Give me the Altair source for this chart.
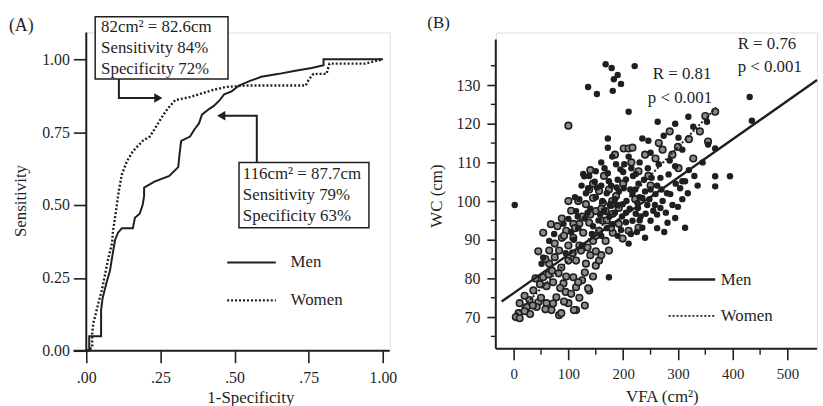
import altair as alt
import pandas as pd

SERIF = "Liberation Serif"
INK = "#1f1f1f"

# ---------------- Panel A : ROC curves ----------------
men_fpr = [0, 0.01, 0.01, 0.05, 0.05, 0.055, 0.07, 0.08, 0.087, 0.097,
           0.107, 0.12, 0.157, 0.164, 0.18, 0.19, 0.195, 0.195, 0.23, 0.28,
           0.31, 0.314, 0.32, 0.35, 0.365, 0.38, 0.39, 0.415, 0.43, 0.45,
           0.465, 0.49, 0.515, 0.55, 0.59, 0.65, 0.70, 0.76, 0.80, 0.80,
           0.99, 1.0]
men_sens = [0, 0, 0.05, 0.05, 0.14, 0.18, 0.24, 0.275, 0.32, 0.38,
            0.405, 0.42, 0.42, 0.456, 0.47, 0.50, 0.53, 0.56, 0.58, 0.60,
            0.63, 0.67, 0.72, 0.735, 0.76, 0.78, 0.81, 0.83, 0.84, 0.86,
            0.88, 0.89, 0.91, 0.925, 0.94, 0.95, 0.96, 0.97, 0.98, 1.0,
            1.0, 1.0]
women_fpr = [0, 0.02, 0.02, 0.024, 0.04, 0.053, 0.064, 0.075, 0.087, 0.09,
             0.097, 0.103, 0.11, 0.12, 0.137, 0.157, 0.19, 0.214, 0.23, 0.254,
             0.274, 0.30, 0.348, 0.38, 0.425, 0.47, 0.54, 0.74, 0.75, 0.766,
             0.81, 0.82, 0.94, 1.0]
women_sens = [0, 0.01, 0.06, 0.095, 0.16, 0.21, 0.265, 0.32, 0.37, 0.41,
              0.456, 0.50, 0.55, 0.605, 0.65, 0.684, 0.72, 0.735, 0.76, 0.80,
              0.83, 0.86, 0.87, 0.88, 0.894, 0.905, 0.91, 0.91, 0.93, 0.95,
              0.95, 0.985, 0.985, 1.0]
roc_ticks = [0, 0.25, 0.5, 0.75, 1.0]
box_lines_1 = ["82cm² = 82.6cm", "Sensitivity 84%", "Specificity 72%"]
box_lines_2 = ["116cm² = 87.7cm", "Sensitivity 79%", "Specificity 63%"]
series = ["Men", "Women"]

# ---------------- Panel B : WC vs VFA scatter ----------------
men_vfa = [168, 179, 221, 190, 183, 196, 136, 152, 181, 210,
           263, 295, 319, 328, 353, 431, 435, 172, 172, 235,
           246, 274, 301, 355, 368, 368, 395, 308, 283, 2,
           174, 313, 304, 308, 368, 308, 210, 295, 187, 174,
           129, 150, 136, 127, 172, 195, 205, 223, 217, 235,
           199, 223, 227, 241, 214, 217, 259, 268, 295, 313,
           281, 300, 286, 272, 250, 235, 262, 201, 228, 160,
           185, 245, 265, 198, 212, 230, 255, 140, 158, 176,
           192, 206, 222, 238, 118, 130, 145, 165, 180, 196,
           240, 262, 278, 290, 150, 170, 190, 110, 125, 95,
           105, 160, 185, 205, 225, 248, 270, 330, 345, 285,
           320, 215, 180, 160, 230, 250, 54, 51, 65, 74,
           91, 100, 114,
           120, 135, 148, 162, 175, 188, 200, 213, 226, 240,
           252, 258, 170, 155, 143, 132, 117, 205, 218, 232,
           190, 178, 166, 152, 138, 124, 112, 202, 244, 268,
           280, 296, 318, 336, 262, 275, 190, 210, 230, 250]
men_wc = [135.4, 134.4, 134.9, 132.6, 131.5, 130.3, 129.5, 127.7, 128.5, 123.1,
          120.5, 120.0, 121.8, 119.2, 120.5, 126.9, 120.8, 116.2, 113.8, 116.2,
          115.6, 116.9, 116.4, 114.6, 113.6, 106.4, 106.4, 105.1, 106.9, 99.0,
          80.3, 105.1, 103.3, 100.5, 103.8, 113.3, 111.5, 109.0, 109.5, 105.1,
          106.4, 107.7, 103.3, 107.0, 107.2, 108.2, 105.6, 107.0, 101.8, 100.8,
          99.2, 96.7, 98.2, 96.7, 91.5, 94.9, 101.8, 98.2, 95.6, 93.1,
          94.4, 98.5, 101.8, 100.0, 94.9, 93.1, 104.0, 103.3, 104.5, 104.0,
          100.5, 108.5, 109.5, 96.0, 98.0, 101.0, 97.5, 98.0, 96.5, 99.0,
          102.5, 100.0, 103.0, 105.5, 93.0, 95.5, 93.5, 97.5, 94.0, 92.5,
          90.5, 93.0, 97.0, 99.0, 101.0, 102.0, 105.5, 90.0, 88.5, 86.5,
          92.0, 91.0, 97.0, 94.5, 92.0, 100.5, 103.0, 106.5, 110.0, 110.5,
          108.0, 108.5, 111.5, 110.0, 110.0, 112.5, 85.4, 83.8, 89.7, 91.5,
          94.1, 95.4, 97.4,
          100.5, 97.0, 105.0, 100.0, 96.0, 103.5, 107.5, 103.0, 99.5, 102.5,
          106.0, 99.0, 93.0, 95.0, 91.5, 102.0, 96.0, 97.0, 106.5, 96.0,
          99.0, 104.0, 108.5, 103.5, 106.5, 104.0, 101.0, 109.5, 99.0, 106.0,
          102.0, 104.5, 102.0, 104.0, 96.5, 92.0, 91.0, 89.0, 95.0, 103.0]
women_vfa = [100, 201, 210, 217, 368, 138, 114, 83, 54, 114,
             136, 36, 29, 45, 24, 11, 9, 4, 11, 60,
             69, 87, 100, 110, 78, 42, 114, 132, 150, 123,
             100, 87, 65, 65, 54, 82, 91, 109, 120, 109,
             83, 145, 168, 127, 156, 96, 109, 138, 163, 132,
             150, 181, 156, 138, 174, 145, 163, 187, 210, 228,
             192, 181, 199, 156, 174, 168, 178, 192, 228, 259,
             290, 328, 301, 320, 355, 340, 272, 250, 72, 95,
             125, 140, 60, 40, 20, 30, 120, 130, 145, 160,
             100, 75, 88, 135, 180, 200, 215, 240, 265, 300,
             140, 165, 185, 118, 105, 80, 68, 222, 246, 285,
             350, 145,
             20, 35, 50, 58, 72, 92, 105, 48, 85, 118,
             64, 96, 130, 108, 75, 92, 58, 120, 150, 140,
             160, 178, 125, 100, 112, 88, 70, 45, 150, 170]
women_wc = [119.5, 113.6, 113.6, 113.8, 123.1, 76.9, 71.8, 70.5, 91.8, 77.7,
            77.4, 76.9, 74.4, 73.8, 72.6, 73.6, 71.0, 70.0, 69.7, 73.6,
            71.8, 71.0, 73.6, 71.8, 75.1, 72.6, 84.6, 83.8, 83.3, 87.2,
            84.6, 82.8, 87.2, 83.8, 80.3, 81.3, 78.7, 80.3, 94.1, 90.5,
            87.2, 89.7, 89.7, 91.8, 92.3, 92.3, 94.1, 94.4, 94.9, 99.2,
            97.4, 96.7, 102.6, 103.0, 103.0, 100.8, 99.5, 101.3, 92.3, 93.1,
            94.1, 91.8, 90.3, 84.6, 87.2, 97.4, 93.1, 98.2, 107.7, 111.0,
            112.0, 111.0, 108.5, 116.0, 115.4, 118.0, 113.3, 104.0, 79.0, 76.5,
            79.5, 86.0, 78.0, 80.0, 75.5, 70.8, 75.0, 73.0, 80.5, 86.0,
            88.5, 85.5, 90.5, 88.0, 100.0, 104.5, 110.0, 112.0, 115.0, 114.0,
            108.0, 106.5, 112.0, 100.0, 97.5, 93.5, 94.0, 100.5, 106.5, 118.0,
            122.0, 104.5,
            71.5, 73.0, 75.0, 72.0, 73.5, 74.0, 76.0, 78.5, 77.5, 79.0,
            81.0, 80.5, 81.5, 86.5, 89.0, 91.0, 85.0, 88.5, 91.0, 96.5,
            98.0, 99.0, 96.0, 100.0, 93.0, 95.5, 82.0, 87.0, 87.0, 95.0]
men_fit_vfa = [-22, 554]
men_fit_wc = [74.0, 131.3]
women_fit_vfa = [5, 370]
women_fit_wc = [70.8, 124.2]
stats_text = ["R = 0.81", "p < 0.001", "R = 0.76", "p < 0.001"]
vfa_ticks = [0, 100, 200, 300, 400, 500]
vfa_minor = [50, 150, 250, 350, 450]
wc_ticks = [70, 80, 90, 100, 110, 120, 130]
wc_minor = [65, 75, 85, 95, 105, 115, 125, 135]

# =================== Panel A ===================
WA, HA = 306, 321
sxA = alt.Scale(domain=[0, 1.023], nice=False, zero=False)
syA = alt.Scale(domain=[0, 1.092], nice=False, zero=False)
axAx = alt.Axis(values=roc_ticks, title=None, domain=False, grid=False,
                labelExpr="datum.value == 1 ? '1.00' : replace(format(datum.value, '.2f'), '0.', '.')",
                tickSize=12, tickWidth=1.6, tickColor=INK, labelFont=SERIF,
                labelFontSize=16, labelColor=INK, labelPadding=7, labelFlush=False)
axAy = alt.Axis(values=roc_ticks, title=None, domain=False, grid=False, format=".2f",
                tickSize=13, tickWidth=1.6, tickColor=INK, labelFont=SERIF,
                labelFontSize=16, labelColor=INK, labelPadding=4, labelFlush=False)


def XA(f="x"):
    return alt.X(f"{f}:Q", scale=sxA, axis=axAx)


def YA(f="y"):
    return alt.Y(f"{f}:Q", scale=syA, axis=axAy)


roc = pd.concat([
    pd.DataFrame({"x": men_fpr, "y": men_sens, "g": "Men", "i": range(len(men_fpr))}),
    pd.DataFrame({"x": women_fpr, "y": women_sens, "g": "Women", "i": range(len(women_fpr))}),
])

frameA = pd.DataFrame({"x": [-0.043, 0], "x2": [1.023, 0], "y": [0, 0], "y2": [0, 1.092]})
a_frame = alt.Chart(frameA).mark_rule(color=INK, strokeWidth=2).encode(
    x=XA(), x2="x2:Q", y=YA(), y2="y2:Q")

a_men = alt.Chart(roc).transform_filter("datum.g == 'Men'").mark_line(
    color=INK, strokeWidth=2).encode(x=XA(), y=YA(), order="i:Q")
a_women = alt.Chart(roc).transform_filter("datum.g == 'Women'").mark_line(
    color=INK, strokeWidth=2.4, strokeDash=[2, 2]).encode(x=XA(), y=YA(), order="i:Q")

legA = pd.DataFrame({"x": [0.475, 0.475], "x2": [0.639, 0.639], "y": [0.303, 0.173],
                     "tx": [0.689, 0.689], "t": series})
a_leg_m = alt.Chart(legA).transform_filter("datum.t == 'Men'").mark_rule(
    color=INK, strokeWidth=2).encode(x=XA(), x2="x2:Q", y=YA())
a_leg_w = alt.Chart(legA).transform_filter("datum.t == 'Women'").mark_rule(
    color=INK, strokeWidth=2.2, strokeDash=[2, 2]).encode(x=XA(), x2="x2:Q", y=YA())
a_leg_t = alt.Chart(legA).mark_text(align="left", baseline="middle", font=SERIF,
                                    fontSize=17, color=INK).encode(x=XA("tx"), y=YA(), text="t:N")

boxes = pd.DataFrame({"x": [0.030, 0.515], "x2": [0.478, 0.953],
                      "y": [1.146, 0.646], "y2": [0.932, 0.422]})
a_box = alt.Chart(boxes).mark_rect(fill="white", stroke=INK, strokeWidth=1.5).encode(
    x=XA(), x2="x2:Q", y=YA(), y2="y2:Q")
btxt = pd.DataFrame({"x": [0.050] * 3 + [0.528] * 3,
                     "y": [1.109, 1.037, 0.966, 0.605, 0.534, 0.463],
                     "t": box_lines_1 + box_lines_2})
a_btxt = alt.Chart(btxt).mark_text(align="left", baseline="middle", font=SERIF,
                                   fontSize=17, color=INK).encode(x=XA(), y=YA(), text="t:N")

arrows = pd.DataFrame({"x": [0.110, 0.110, 0.245, 0.575, 0.575, 0.452],
                       "y": [0.932, 0.867, 0.867, 0.646, 0.806, 0.806],
                       "a": [1, 1, 1, 2, 2, 2], "i": [0, 1, 2, 0, 1, 2]})
a_arr = alt.Chart(arrows).mark_line(color=INK, strokeWidth=2).encode(
    x=XA(), y=YA(), detail="a:N", order="i:Q")
heads = pd.DataFrame({"x": [0.243, 0.455], "y": [0.867, 0.806],
                      "s": ["triangle-right", "triangle-left"]})
a_head = alt.Chart(heads).mark_point(filled=True, size=90, color=INK, opacity=1).encode(
    x=XA(), y=YA(), shape=alt.Shape("s:N", scale=None))

txtA = pd.DataFrame({"t": ["(A)", "Sensitivity", "1-Specificity"]})
a_lab = alt.Chart(txtA).transform_filter("datum.t == '(A)'").mark_text(
    align="left", baseline="middle", font=SERIF, fontSize=18, color=INK).encode(
    x=alt.value(-78), y=alt.value(-6), text="t:N")
a_ytitle = alt.Chart(txtA).transform_filter("datum.t == 'Sensitivity'").mark_text(
    align="center", baseline="middle", font=SERIF, fontSize=17, color=INK, angle=270).encode(
    x=alt.value(-66), y=alt.value(170), text="t:N")
a_xtitle = alt.Chart(txtA).transform_filter("datum.t == '1-Specificity'").mark_text(
    align="center", baseline="middle", font=SERIF, fontSize=17, color=INK).encode(
    x=alt.value(166), y=alt.value(369), text="t:N")

panelA = alt.layer(a_frame, a_men, a_women, a_leg_m, a_leg_w, a_leg_t, a_arr, a_head,
                   a_box, a_btxt, a_lab, a_ytitle, a_xtitle).properties(width=WA, height=HA)

# =================== Panel B ===================
WB, HB = 324, 319
sxB = alt.Scale(domain=[-32.6, 554], nice=False, zero=False)
syB = alt.Scale(domain=[61.8, 143.6], nice=False, zero=False)
axBx = alt.Axis(values=vfa_ticks, title=None, domain=False, grid=False, format="d",
                tickSize=11, tickWidth=1.6, tickColor=INK, labelFont=SERIF,
                labelFontSize=15, labelColor=INK, labelPadding=7, labelFlush=False)
axBy = alt.Axis(values=wc_ticks, title=None, domain=False, grid=False, format="d",
                tickSize=9, tickWidth=1.6, tickColor=INK, labelFont=SERIF,
                labelFontSize=16, labelColor=INK, labelPadding=7, labelFlush=False)


def XB(f="x"):
    return alt.X(f"{f}:Q", scale=sxB, axis=axBx)


def YB(f="y"):
    return alt.Y(f"{f}:Q", scale=syB, axis=axBy)


frameB = pd.DataFrame({"x": [-32.6, -32.6], "x2": [554, -32.6], "y": [61.8, 61.8], "y2": [61.8, 141.8]})
b_frame = alt.Chart(frameB).mark_rule(color=INK, strokeWidth=2).encode(
    x=XB(), x2="x2:Q", y=YB(), y2="y2:Q")
b_minor_y = alt.Chart(pd.DataFrame({"y": wc_minor})).mark_rule(color=INK, strokeWidth=1.4).encode(
    y=YB(), x=alt.value(-5), x2=alt.value(0))
b_minor_x = alt.Chart(pd.DataFrame({"x": vfa_minor})).mark_rule(color=INK, strokeWidth=1.4).encode(
    x=XB(), y=alt.value(HB), y2=alt.value(HB + 6))

pts_w = pd.DataFrame({"x": women_vfa, "y": women_wc})
pts_m = pd.DataFrame({"x": men_vfa, "y": men_wc})
b_w = alt.Chart(pts_w).mark_point(shape="circle", filled=True, fill="#8c8c8c", stroke=INK,
                                  strokeWidth=1.6, size=44, opacity=1).encode(x=XB(), y=YB())
b_m = alt.Chart(pts_m).mark_circle(color=INK, size=42, opacity=1).encode(x=XB(), y=YB())

fits = pd.concat([
    pd.DataFrame({"x": men_fit_vfa, "y": men_fit_wc, "g": "Men"}),
    pd.DataFrame({"x": women_fit_vfa, "y": women_fit_wc, "g": "Women"}),
])
b_fit_m = alt.Chart(fits).transform_filter("datum.g == 'Men'").mark_line(
    color=INK, strokeWidth=2.4).encode(x=XB(), y=YB())
b_fit_w = alt.Chart(fits).transform_filter("datum.g == 'Women'").mark_line(
    color=INK, strokeWidth=2, strokeDash=[2, 2]).encode(x=XB(), y=YB())

legB = pd.DataFrame({"x": [283, 283], "x2": [368, 368], "y": [79.7, 70.3],
                     "tx": [378, 378], "t": series})
b_leg_m = alt.Chart(legB).transform_filter("datum.t == 'Men'").mark_rule(
    color=INK, strokeWidth=2.6).encode(x=XB(), x2="x2:Q", y=YB())
b_leg_w = alt.Chart(legB).transform_filter("datum.t == 'Women'").mark_rule(
    color=INK, strokeWidth=1.8, strokeDash=[2, 2]).encode(x=XB(), x2="x2:Q", y=YB())
b_leg_t = alt.Chart(legB).mark_text(align="left", baseline="middle", font=SERIF,
                                    fontSize=17, color=INK).encode(x=XB("tx"), y=YB(), text="t:N")

stats = pd.DataFrame({"x": [254, 245, 409, 409], "y": [132.8, 126.7, 140.5, 134.6], "t": stats_text})
b_stats = alt.Chart(stats).mark_text(align="left", baseline="middle", font=SERIF,
                                     fontSize=17, color=INK).encode(x=XB(), y=YB(), text="t:N")

txtB = pd.DataFrame({"t": ["(B)", "WC (cm)", "VFA (cm²)"]})
b_lab = alt.Chart(txtB).transform_filter("datum.t == '(B)'").mark_text(
    align="left", baseline="middle", font=SERIF, fontSize=17, color=INK).encode(
    x=alt.value(-69), y=alt.value(-10), text="t:N")
b_ytitle = alt.Chart(txtB).transform_filter("datum.t == 'WC (cm)'").mark_text(
    align="center", baseline="middle", font=SERIF, fontSize=17, color=INK, angle=270).encode(
    x=alt.value(-59), y=alt.value(165), text="t:N")
b_xtitle = alt.Chart(txtB).transform_filter("datum.t == 'VFA (cm²)'").mark_text(
    align="center", baseline="middle", font=SERIF, fontSize=17, color=INK).encode(
    x=alt.value(168), y=alt.value(368), text="t:N")

panelB = alt.layer(b_frame, b_minor_y, b_minor_x, b_w, b_m, b_fit_w, b_fit_m,
                   b_leg_m, b_leg_w, b_leg_t, b_stats, b_lab, b_ytitle, b_xtitle
                   ).properties(width=WB, height=HB)

chart = alt.hconcat(panelA, panelB, spacing=107, bounds="flush").properties(
    padding={"left": 8, "top": 11, "right": 0, "bottom": 0},
    background="white",
).configure_view(strokeWidth=0).configure(font=SERIF)

chart.save("out.html", embed_options={"renderer": "svg", "actions": False})
